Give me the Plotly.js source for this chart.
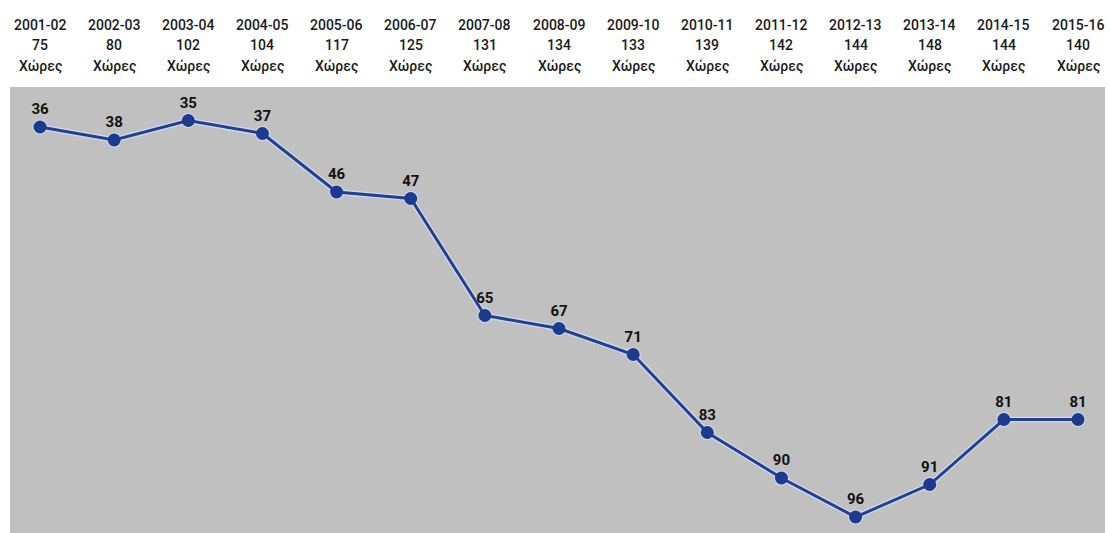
<!DOCTYPE html>
<html>
<head>
<meta charset="utf-8">
<script src="https://cdn.plot.ly/plotly-3.0.1.min.js"></script>
<style>html,body{margin:0;padding:0;background:#fff;}#chart{width:1109px;height:533px;}</style>
</head>
<body>
<div id="chart"></div>
<script>
var seasons = ["2001-02","2002-03","2003-04","2004-05","2005-06","2006-07","2007-08","2008-09","2009-10","2010-11","2011-12","2012-13","2013-14","2014-15","2015-16"];
var countries = [75, 80, 102, 104, 117, 125, 131, 134, 133, 139, 142, 144, 148, 144, 140];
var countryWord = "Χώρες";
var ranks = [36, 38, 35, 37, 46, 47, 65, 67, 71, 83, 90, 96, 91, 81, 81];

var xs = seasons.map(function(_, i){ return i; });

var halo = {
  x: xs, y: ranks, type: 'scatter', mode: 'lines+markers',
  line: {color: '#d3dbe8', width: 5.5},
  marker: {size: 15, color: '#d3dbe8'},
  hoverinfo: 'skip', showlegend: false
};
var main = {
  x: xs, y: ranks, type: 'scatter', mode: 'lines+markers+text',
  line: {color: '#233f94', width: 3},
  marker: {size: 13, color: '#1c3a8e'},
  text: ranks.map(String),
  textposition: 'top center',
  textfont: {family: 'Roboto, Arial, sans-serif', size: 15, color: '#111', weight: 700},
  showlegend: false
};

var annotations = [];
var lines = [seasons, countries.map(String), seasons.map(function(){ return countryWord; })];
var shifts = [62, 42, 21];
lines.forEach(function(arr, r){
  arr.forEach(function(t, i){
    annotations.push({
      x: i, xref: 'x', y: 1, yref: 'paper', yanchor: 'middle', xanchor: 'center',
      yshift: shifts[r], text: t, showarrow: false,
      font: {family: 'Roboto, Arial, sans-serif', size: 14, color: '#1a1a1a', weight: 500}
    });
  });
});

var layout = {
  width: 1109, height: 533,
  margin: {l: 10, r: 4, t: 87, b: 0, pad: 0},
  paper_bgcolor: '#ffffff',
  plot_bgcolor: '#c0c0c0',
  xaxis: {range: [-0.405, 14.364], showgrid: false, zeroline: false, showticklabels: false, ticks: '', fixedrange: true},
  yaxis: {range: [98.46, 29.85], showgrid: false, zeroline: false, showticklabels: false, ticks: '', fixedrange: true},
  annotations: annotations,
  showlegend: false
};

Plotly.newPlot('chart', [halo, main], layout, {displayModeBar: false, staticPlot: true});
</script>
</body>
</html>
